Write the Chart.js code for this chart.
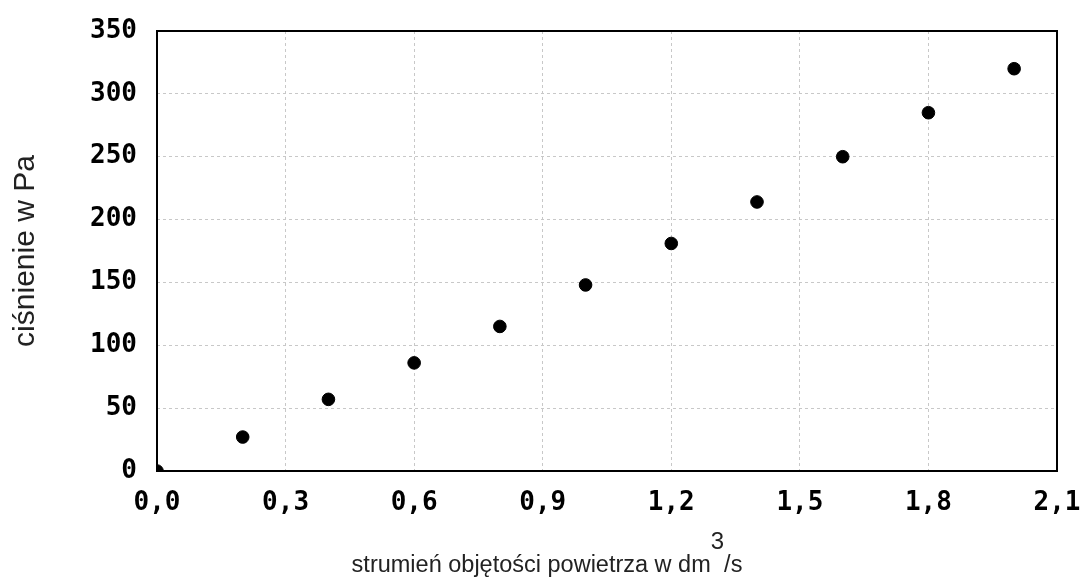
<!DOCTYPE html>
<html>
<head>
<meta charset="utf-8">
<script src="https://cdn.jsdelivr.net/npm/chart.js@4"></script>
<style>
  html, body { margin: 0; padding: 0; background: #fff; }
  #wrap { width: 1082px; height: 584px; }
</style>
</head>
<body>
<div id="wrap"><canvas id="myChart" width="1082" height="584"></canvas></div>
<script>
const flowValues = [0, 0.2, 0.4, 0.6, 0.8, 1.0, 1.2, 1.4, 1.6, 1.8, 2.0];
const pressureValues = [0, 27, 57, 86, 115, 148, 181, 214, 250, 285, 320];
const xTicks = [0, 0.3, 0.6, 0.9, 1.2, 1.5, 1.8, 2.1];
const yTicks = [0, 50, 100, 150, 200, 250, 300, 350];
const xTitle = ['strumień objętości powietrza w dm', '3', '/s'];
const yTitle = 'ciśnienie w Pa';

const tickFont = { family: 'DejaVu Sans Mono', size: 26, weight: 'bold' };

const frame = {
    id: 'frame',
    afterDatasetsDraw(chart) {
        const a = chart.chartArea;
        const ctx = chart.ctx;
        ctx.save();
        ctx.strokeStyle = '#000';
        ctx.lineWidth = 2;
        ctx.strokeRect(a.left, a.top, a.right - a.left, a.bottom - a.top);
        ctx.restore();
    }
};

// x title with a raised "3", drawn a bit left of the plot centre like the original
const xTitlePlugin = {
    id: 'xTitle',
    afterDraw(chart) {
        const ctx = chart.ctx;
        ctx.save();
        ctx.fillStyle = '#222';
        ctx.textBaseline = 'alphabetic';
        ctx.font = '23.5px "Liberation Sans"';
        const w1 = ctx.measureText(xTitle[0]).width;
        const w3 = ctx.measureText(xTitle[2]).width;
        ctx.font = '24px "Liberation Sans"';
        const w2 = ctx.measureText(xTitle[1]).width;
        let x = 547 - (w1 + w2 + w3) / 2;
        ctx.font = '23.5px "Liberation Sans"';
        ctx.fillText(xTitle[0], x, 572);
        x += w1;
        ctx.font = '24px "Liberation Sans"';
        ctx.fillText(xTitle[1], x, 549);
        x += w2;
        ctx.font = '23.5px "Liberation Sans"';
        ctx.fillText(xTitle[2], x, 572);
        ctx.restore();
    }
};

function commaLabel(v) {
    return v.toFixed(1).replace('.', ',');
}

const points = flowValues.map((x, i) => ({ x: x, y: pressureValues[i] }));

new Chart(document.getElementById('myChart'), {
    type: 'scatter',
    data: {
        datasets: [{
            data: points,
            backgroundColor: '#000',
            borderColor: '#000',
            pointRadius: 6.3,
            pointHoverRadius: 6.3
        }]
    },
    options: {
        responsive: false,
        animation: false,
        layout: { padding: { top: 31, right: 25, left: 0, bottom: 0 } },
        plugins: { legend: { display: false }, tooltip: { enabled: false } },
        scales: {
            x: {
                type: 'linear',
                min: 0,
                max: 2.1,
                afterBuildTicks: s => { s.ticks = xTicks.map(v => ({ value: v })); },
                afterFit: s => {
                    s.height = 113;
                    s.paddingLeft = 0;
                    s.paddingRight = 0;
                },
                ticks: {
                    color: '#000',
                    font: tickFont,
                    padding: 17,
                    callback: v => commaLabel(v)
                },
                grid: { color: '#c8c8c8', lineWidth: 1, drawTicks: false },
                border: { display: false, dash: [3, 3] }
            },
            y: {
                min: 0,
                max: 350,
                afterBuildTicks: s => { s.ticks = yTicks.map(v => ({ value: v })); },
                afterFit: s => {
                    s.width = 157;
                    s.paddingTop = 0;
                    s.paddingBottom = 0;
                },
                ticks: {
                    color: '#000',
                    font: tickFont,
                    padding: 20
                },
                grid: { color: '#c8c8c8', lineWidth: 1, drawTicks: false },
                border: { display: false, dash: [3, 3] },
                title: {
                    display: true,
                    text: yTitle,
                    color: '#222',
                    font: { family: 'Liberation Sans', size: 30 },
                    padding: { top: 8, bottom: 0 }
                }
            }
        }
    },
    plugins: [frame, xTitlePlugin]
});
</script>
</body>
</html>
